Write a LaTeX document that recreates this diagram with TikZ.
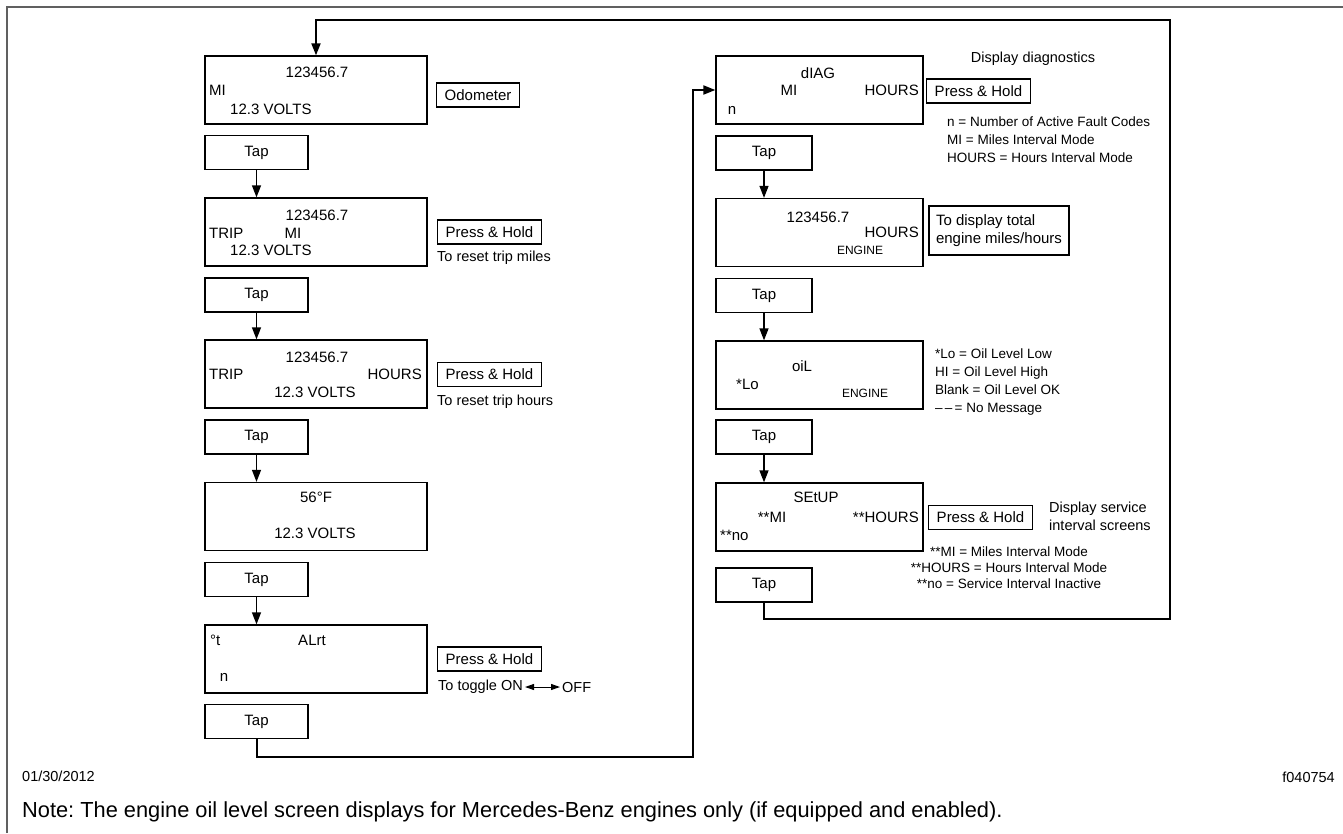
\documentclass[tikz,border=0pt]{standalone}
\usepackage{fontspec}
\setmainfont{Liberation Sans}
\usetikzlibrary{arrows.meta,positioning}
\frenchspacing

\begin{document}
\begin{tikzpicture}[x=1pt,y=-1pt,>={Triangle[length=12pt,width=9pt]},
  every node/.style={inner sep=0pt,font=\fontsize{15}{18}\selectfont},
  scr/.style={draw,line width=1.3pt,minimum width=222pt,minimum height=68pt},
  rscr/.style={scr,minimum width=207pt},
  tapbox/.style={draw,line width=1.3pt,minimum width=103pt,minimum height=34pt},
  rtapbox/.style={tapbox,minimum width=96pt},
  holdbox/.style={draw,line width=1.3pt,inner xsep=8pt,minimum height=24pt},
  small/.style={font=\fontsize{12}{14}\selectfont},
  hint/.style={anchor=west,font=\fontsize{14.5}{18}\selectfont},
  note/.style={align=left,anchor=west,font=\fontsize{13.5}{18}\selectfont},
  link/.style={->,line width=1.3pt},
  loop/.style={line width=2pt}]
\useasboundingbox (0,0) rectangle (1343,833);
\draw[line width=2.5pt,gray!75!black] (7,833) -- (7,7) -- (1343,7);
\node[scr] (s1) at (316,90) {};
\node (s1num) at (317,72) {123456.7};
\node[anchor=west] (s1mi) at (209,90) {MI};
\node[anchor=west] (s1v) at (230,109) {12.3 VOLTS};
\node[holdbox] (odo) at (478,95) {Odometer};
\node[tapbox] (t1) at (256.5,152.5) {Tap};
\node[scr] (s2) at (316,232) {};
\node (s2num) at (317,215) {123456.7};
\node[anchor=west] (s2trip) at (209,233) {TRIP};
\node (s2mi) at (293,233) {MI};
\node[anchor=west] (s2v) at (230,250) {12.3 VOLTS};
\node[holdbox] (h2) at (489.5,232) {Press \& Hold};
\node[hint] (h2txt) at (437,258) {To reset trip miles};
\node[tapbox] (t2) at (256.5,295) {Tap};
\node[scr] (s3) at (316,374) {};
\node (s3num) at (317,357) {123456.7};
\node[anchor=west] (s3trip) at (209,374) {TRIP};
\node[anchor=east] (s3hrs) at (422,374) {HOURS};
\node (s3v) at (315,392) {12.3 VOLTS};
\node[holdbox] (h3) at (489.5,374.5) {Press \& Hold};
\node[hint] (h3txt) at (437,402) {To reset trip hours};
\node[tapbox] (t3) at (256.5,437) {Tap};
\node[scr] (s4) at (316,516.5) {};
\node (s4temp) at (316,497) {56°F};
\node (s4v) at (315,533) {12.3 VOLTS};
\node[tapbox] (t4) at (256.5,579.5) {Tap};
\node[scr] (s5) at (316,659) {};
\node[anchor=west] (s5deg) at (210,640) {°t};
\node (s5alrt) at (312,640) {ALrt};
\node (s5n) at (224,677) {n};
\node[holdbox] (h5) at (489.5,659) {Press \& Hold};
\node[hint] (on) at (438,687) {To toggle ON};
\node[hint] (off) at (562,687) {OFF};
\draw[{Triangle[length=9pt,width=6pt]}-{Triangle[length=9pt,width=6pt]},line width=1pt,shorten <=2pt,shorten >=2pt] (on.east) -- (off.west);
\node[tapbox] (t5) at (256.5,721.5) {Tap};
\node[rscr] (r1) at (819.5,90) {};
\node (r1diag) at (818,73) {dIAG};
\node (r1mi) at (789,90) {MI};
\node[anchor=east] (r1hrs) at (919,90) {HOURS};
\node (r1n) at (732,110) {n};
\node[holdbox] (rh1) at (978.5,91) {Press \& Hold};
\node[font=\fontsize{14.5}{18}\selectfont] (diagtxt) at (1033,59) {Display diagnostics};
\node[note] (diagnote) at (947,140) {n = Number of Active Fault Codes\\MI = Miles Interval Mode\\HOURS = Hours Interval Mode};
\node[rtapbox] (rt1) at (764,153) {Tap};
\node[rscr] (r2) at (819.5,232.5) {};
\node (r2num) at (818,217) {123456.7};
\node[anchor=east] (r2hrs) at (919,232) {HOURS};
\node[small] (r2eng) at (860,250) {ENGINE};
\node[holdbox,align=left,inner xsep=7pt,minimum height=49pt] (total) at (999,230.5) {To display total\\engine miles/hours};
\node[rtapbox] (rt2) at (764,295.5) {Tap};
\node[rscr] (r3) at (819.5,375) {};
\node (r3oil) at (802,366) {oiL};
\node[anchor=west] (r3lo) at (736,384) {*Lo};
\node[small] (r3eng) at (865,393) {ENGINE};
\node[note] (oilnote) at (935,382.5) {*Lo = Oil Level Low\\HI = Oil Level High\\Blank = Oil Level OK\\\textendash\,\textendash\,= No Message};
\node[rtapbox] (rt3) at (764,437) {Tap};
\node[rscr] (r4) at (819.5,517) {};
\node (r4set) at (816,497) {SEtUP};
\node (r4mi) at (772,517) {**MI};
\node[anchor=east] (r4hrs) at (919,517) {**HOURS};
\node[anchor=west] (r4no) at (720,535) {**no};
\node[holdbox] (rh4) at (980.5,517.5) {Press \& Hold};
\node[note,font=\fontsize{14.5}{18}\selectfont] (servtxt) at (1049,516) {Display service\\interval screens};
\node[align=center,font=\fontsize{13.5}{16}\selectfont] (setnote) at (1009,568) {**MI = Miles Interval Mode\\**HOURS = Hours Interval Mode\\**no = Service Interval Inactive};
\node[rtapbox] (rt4) at (764,585) {Tap};
\coordinate (lowjoin) at (693,757);
\coordinate (ltop) at (1170,20);
\coordinate (lbot) at (1170,619);
\foreach \a/\b in {t1/s2,t2/s3,t3/s4,t4/s5,rt1/r2,rt2/r3,rt3/r4}
  \draw[link] (\a.south) -- (\a.south |- \b.north);
\draw[loop,->] (t5.south) |- (lowjoin) -- (lowjoin |- r1.west) -- (r1.west);
\draw[loop,->] (rt4.south) |- (lbot) -- (ltop) -- (s1.north |- ltop) -- (s1.north);
\node[anchor=west,font=\fontsize{14.5}{17}\selectfont] (date) at (22,776) {01/30/2012};
\node[anchor=east,font=\fontsize{14.5}{17}\selectfont] (fig) at (1335,777) {f040754};
\node[anchor=west,font=\fontsize{21.8}{24}\selectfont] (foot) at (22,812) {Note: The engine oil level screen displays for Mercedes-Benz engines only (if equipped and enabled).};
\end{tikzpicture}
\end{document}
